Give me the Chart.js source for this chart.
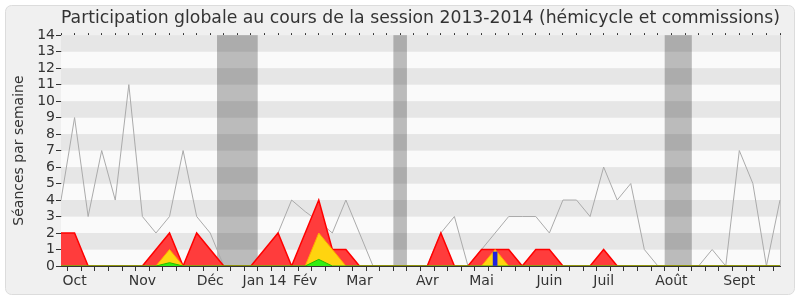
<!DOCTYPE html>
<html>
<head>
<meta charset="utf-8">
<script src="https://cdn.jsdelivr.net/npm/chart.js@4.4.1/dist/chart.umd.min.js"></script>
<style>
  html, body { margin: 0; padding: 0; background: #fff; }
  #wrap { width: 800px; height: 300px; }
</style>
</head>
<body>
<div id="wrap"><canvas id="chart"></canvas></div>
<script>
// semaines de la session (index 0 = début octobre 2013)
const weeks = Array.from({ length: 54 }, (_, i) => 'S' + (i + 1));
// libellés des mois, placés sur l'index de la semaine
const monthWeeks = [1, 6, 11, 15, 18, 22, 27, 31, 36, 40, 45, 50];
const monthNames = ['Oct', 'Nov', 'Déc', 'Jan 14', 'Fév', 'Mar', 'Avr', 'Mai', 'Juin', 'Juil', 'Août', 'Sept'];
// vacances parlementaires (première et dernière semaine)
const vacations = [[12, 14], [25, 25], [45, 46]];

// séances totales (ligne grise)
const totalSeances = [4, 9, 3, 7, 4, 11, 3, 2, 3, 7, 3, 2, 0, 0, 0, 0, 2, 4, 3.3, 2.7,
  2, 4, 2, 0, 0, 0, 0, 0, 2, 3, 0, 1, 2, 3, 3, 3, 2, 4, 4, 3,
  6, 4, 5, 1, 0, 0, 0, 0, 1, 0, 7, 5, 0, 4];
// présences (rouge)
const presences = [2, 2, 0, 0, 0, 0, 0, 1, 2, 0, 2, 1, 0, 0, 0, 1, 2, 0, 2, 4,
  1, 1, 0, 0, 0, 0, 0, 0, 2, 0, 0, 1, 1, 1, 0, 1, 1, 0, 0, 0,
  1, 0, 0, 0, 0, 0, 0, 0, 0, 0, 0, 0, 0, 0];
// participations (jaune)
const participations = [0, 0, 0, 0, 0, 0, 0, 0, 1, 0, 0, 0, 0, 0, 0, 0, 0, 0, 0, 2,
  1, 0, 0, 0, 0, 0, 0, 0, 0, 0, 0, 0, 1, 0, 0, 0, 0, 0, 0, 0,
  0, 0, 0, 0, 0, 0, 0, 0, 0, 0, 0, 0, 0, 0];
// interventions (vert)
const interventions = [0, 0, 0, 0, 0, 0, 0, 0, 0.2, 0, 0, 0, 0, 0, 0, 0, 0, 0, 0, 0.4,
  0, 0, 0, 0, 0, 0, 0, 0, 0, 0, 0, 0, 0, 0, 0, 0, 0, 0, 0, 0,
  0, 0, 0, 0, 0, 0, 0, 0, 0, 0, 0, 0, 0, 0];
// questions (barre bleue)
const questions = weeks.map((_, i) => (i === 32 ? 0.85 : null));

const FONT = 'DejaVu Sans';

// fond : cadre gris, bandes alternées, vacances
const backgroundPlugin = {
  id: 'background',
  beforeDraw(chart) {
    const ctx = chart.ctx;
    ctx.save();
    ctx.fillStyle = '#f0f0f0';
    ctx.strokeStyle = '#dcdcdc';
    ctx.lineWidth = 1;
    ctx.beginPath();
    ctx.roundRect(5.5, 5.5, 789, 289, 6);
    ctx.fill();
    ctx.stroke();
    ctx.restore();
  },
  beforeDatasetsDraw(chart) {
    const { ctx, chartArea: a, scales: { x, y } } = chart;
    ctx.save();
    for (let v = 0; v < 14; v++) {
      ctx.fillStyle = v % 2 === 1 ? '#e6e6e6' : '#fafafa';
      const top = y.getPixelForValue(v + 1);
      const bot = y.getPixelForValue(v);
      ctx.fillRect(a.left, top, a.right - a.left, bot - top);
    }
    const half = (x.getPixelForValue(1) - x.getPixelForValue(0)) / 2;
    ctx.fillStyle = 'rgba(0,0,0,0.25)';
    vacations.forEach(([s, e]) => {
      const l = x.getPixelForValue(s) - half;
      const r = x.getPixelForValue(e) + half;
      ctx.fillRect(l, a.top, r - l, a.bottom - a.top);
    });
    ctx.strokeStyle = '#c8c8c8';
    ctx.beginPath();
    ctx.moveTo(a.right + 0.5, a.top);
    ctx.lineTo(a.right + 0.5, a.bottom);
    ctx.stroke();
    ctx.restore();
  }
};

new Chart(document.getElementById('chart'), {
  type: 'line',
  data: {
    labels: weeks,
    datasets: [
      { label: 'Questions', type: 'bar', data: questions, backgroundColor: '#2222dd', borderWidth: 0, barThickness: 4, order: 1 },
      { label: 'Interventions', data: interventions, borderColor: '#22bb00', backgroundColor: '#33ee11', borderWidth: 1, fill: 'origin', order: 2 },
      { label: 'Participations', data: participations, borderColor: '#ffaa00', backgroundColor: '#ffd40f', borderWidth: 1, fill: 'origin', order: 3 },
      { label: 'Présences', data: presences, borderColor: '#ff0000', backgroundColor: '#ff3c3c', borderWidth: 1.5, fill: 'origin', order: 4 },
      { label: 'Séances', data: totalSeances, borderColor: '#aaaaaa', borderWidth: 1, fill: false, order: 5 }
    ]
  },
  options: {
    responsive: true,
    maintainAspectRatio: false,
    animation: false,
    layout: { padding: { left: 8, right: 20, top: 0, bottom: 6 } },
    elements: {
      line: { tension: 0 },
      point: { radius: 0 }
    },
    scales: {
      x: {
        type: 'category',
        offset: false,
        grid: { display: true, drawOnChartArea: false, drawTicks: true, tickLength: 5, color: '#333' },
        border: { display: true, color: '#333' },
        ticks: {
          autoSkip: false,
          maxRotation: 0,
          padding: 2,
          color: '#333',
          font: { family: FONT, size: 14 },
          callback: function(value, index) {
            const k = monthWeeks.indexOf(index);
            return k >= 0 ? monthNames[k] : '';
          }
        },
        afterFit: s => { s.height = 28; }
      },
      xTop: {
        type: 'category',
        position: 'top',
        offset: false,
        grid: { display: true, drawOnChartArea: false, drawTicks: true, tickLength: 2, color: '#333' },
        border: { display: false },
        ticks: { display: false },
        afterFit: s => { s.height = 4; }
      },
      y: {
        min: 0,
        max: 14,
        grid: { display: true, drawOnChartArea: false, drawTicks: true, tickLength: 5, color: '#333' },
        border: { display: true, color: '#333' },
        ticks: {
          stepSize: 1,
          autoSkip: false,
          padding: 1,
          color: '#333',
          font: { family: FONT, size: 14 }
        },
        title: {
          display: true,
          text: 'Séances par semaine',
          color: '#333',
          padding: { top: 3, bottom: 0 },
          font: { family: FONT, size: 14 }
        },
        afterFit: s => { s.width = 53; }
      }
    },
    plugins: {
      legend: { display: false },
      tooltip: { enabled: false },
      title: {
        display: true,
        fullSize: false,
        text: 'Participation globale au cours de la session 2013-2014 (hémicycle et commissions)',
        color: '#333',
        padding: { top: 8, bottom: 2 },
        font: { family: FONT, size: 17.6, weight: 'normal' }
      }
    }
  },
  plugins: [backgroundPlugin]
});
</script>
</body>
</html>
